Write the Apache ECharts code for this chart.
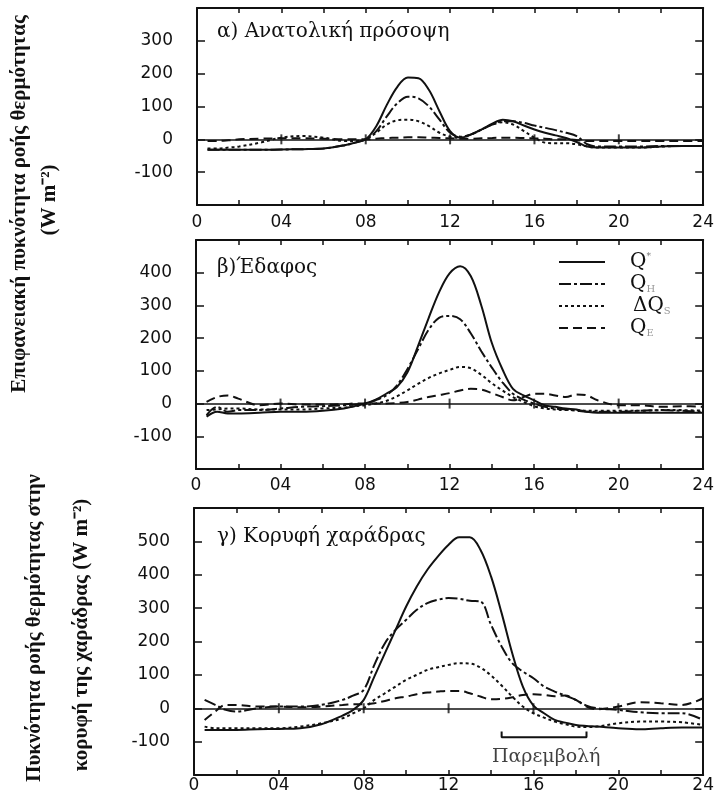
<!DOCTYPE html>
<html><head><meta charset="utf-8">
<script src="https://cdn.jsdelivr.net/npm/echarts@6/dist/echarts.min.js"></script>
<style>html,body{margin:0;padding:0;background:#fff}#c{width:717px;height:794px}</style>
</head><body><div id="c"></div>
<script>
// ---- data ----
const hours = [0.5,1,1.5,2,3,4,5,6,7,7.5,8,8.5,9,9.5,10,10.5,11,11.5,12,12.5,13,13.5,14,14.5,15,15.5,16,16.5,17,17.5,18,18.5,19,20,21,22,23,24];
const seriesNames = ['Q*','QH','ΔQS','QE'];
const panelTitles = ['α) Ανατολική πρόσοψη','β)Έδαφος','γ) Κορυφή χαράδρας'];
const xTickLabels = {0:'0',4:'04',8:'08',12:'12',16:'16',20:'20',24:'24'};
const yRanges = [[-200,400],[-200,500],[-200,600]];
const yLabelRanges = [[-100,300],[-100,400],[-100,500]];
// panel a: Ανατολική πρόσοψη
const aQstar = [-32,-32,-32,-32,-32,-31,-30,-28,-18,-10, 0,40,105,160,188,186,150,85,25,5, 15,30,48,60,55,42,30,20,12,4, -8,-22,-25,-25,-25,-22,-20,-20];
const aQH    = [-32,-32,-32,-32,-32,-31,-30,-28,-18,-10, 0,25,70,110,130,125,100,60,20,8, 15,30,45,55,55,50,42,35,28,20, 10,-15,-22,-22,-22,-20,-20,-20];
const aDQS   = [-28,-28,-25,-22,-10,5,10,5,-5,-5, 0,20,45,58,60,55,40,20,8,5, 15,30,45,52,45,25,5,-10,-12,-12, -15,-22,-25,-25,-25,-22,-20,-20];
const aQE    = [-5,-5,-3,0,2,3,3,2,0,0, 0,2,4,5,6,6,5,4,3,2, 2,3,4,5,5,4,3,2,0,0, -2,-5,-5,-5,-5,-5,-5,-5];
// panel b: Έδαφος
const bQstar = [-40,-25,-30,-30,-28,-25,-25,-22,-15,-8, 0,12,30,50,95,175,260,340,398,420, 390,300,185,105,45,25,10,-5,-10,-15, -18,-25,-28,-28,-28,-28,-28,-28];
const bQH    = [-35,-10,-25,-20,-20,-15,-10,-8,-5,-3, 0,10,25,55,105,165,225,262,268,258, 215,160,110,65,30,12,0,-10,-15,-18, -22,-25,-25,-25,-22,-20,-22,-25];
const bDQS   = [-20,-18,-15,-15,-18,-18,-18,-15,-12,-8, -5,0,8,22,40,60,78,92,103,112, 108,88,62,40,20,5,-8,-15,-18,-20, -20,-22,-22,-22,-22,-20,-20,-22];
const bQE    = [5,20,25,15,-5,0,-3,-3,-2,0, 0,0,0,2,5,12,20,26,32,40, 45,43,32,20,10,20,30,30,25,20, 28,25,10,-5,-5,-10,-8,-10];
// panel c: Κορυφή χαράδρας
const cQstar = [-65,-65,-65,-65,-63,-62,-60,-48,-22,-5, 25,95,165,235,305,365,415,455,490,512, 512,475,395,285,165,65,8,-15,-35,-43, -50,-53,-55,-60,-63,-60,-58,-58];
const cQH    = [25,10,-5,-10,0,5,5,10,25,38, 55,130,195,235,265,295,315,325,330,328, 322,320,250,185,135,110,90,65,50,38, 25,8,0,-5,-12,-15,-15,-35];
const cDQS   = [-55,-60,-60,-60,-60,-60,-55,-45,-30,-15, 0,25,45,65,85,100,115,123,130,135, 134,122,98,68,35,5,-15,-28,-40,-48, -55,-56,-55,-45,-40,-40,-42,-50];
const cQE    = [-35,-10,10,10,5,5,3,5,10,12, 12,15,22,30,35,42,47,50,52,52, 45,35,27,28,33,40,42,40,36,38, 25,5,-3,5,18,15,10,30];
const zeroMarks = [4,8,12,16,20];
const bracketHours = [14.5,18.5];
const bracketValues = [-70,-87];
const bracketLabel = {text:'Παρεμβολή', hour:16.6, value:-146};

// ---- layout ----
const grids = [
  {left:197, top:8,   width:517, height:197},
  {left:196, top:240, width:518, height:229},
  {left:194, top:508, width:520, height:268}
];
const xLabelMargins = [9, 8, 2];
const styles = {
  'Q*':  {type:'solid'},
  'QH':  {type:[12,3,3,3]},
  'ΔQS': {type:[3,3]},
  'QE':  {type:[9,5]}
};
const ink = '#111';
const panels = [[aQstar,aQH,aDQS,aQE],[bQstar,bQH,bDQS,bQE],[cQstar,cQH,cDQS,cQE]];

const xAxis = [], yAxis = [], series = [];
panels.forEach((vals, g) => {
  const common = {type:'value', gridIndex:g, min:0, max:24, interval:2,
    axisLine:{show:true, onZero:false, lineStyle:{color:ink, width:2}},
    axisTick:{show:true, inside:true, length:5, lineStyle:{color:ink, width:1.5}},
    splitLine:{show:false}};
  xAxis.push(Object.assign({}, common, {position:'bottom',
    axisLabel:{show:true, margin:xLabelMargins[g], color:ink, fontFamily:'DejaVu Sans', fontSize:17,
      showMinLabel:true, showMaxLabel:true,
      formatter: v => (xTickLabels[v] !== undefined ? xTickLabels[v] : '')}}));
  xAxis.push(Object.assign({}, common, {position:'top', axisLabel:{show:false}}));
  const [ymin, ymax] = yRanges[g];
  const [lmin, lmax] = yLabelRanges[g];
  const ycommon = {type:'value', gridIndex:g, min:ymin, max:ymax, interval:100,
    axisLine:{show:true, onZero:false, lineStyle:{color:ink, width:2}},
    axisTick:{show:true, inside:true, length:8, lineStyle:{color:ink, width:1.5}},
    splitLine:{show:false}};
  yAxis.push(Object.assign({}, ycommon, {position:'left',
    axisLabel:{show:true, margin:24, color:ink, fontFamily:'DejaVu Sans', fontSize:17,
      formatter: v => (v >= lmin && v <= lmax ? String(v) : '')}}));
  yAxis.push(Object.assign({}, ycommon, {position:'right', axisLabel:{show:false}}));
  vals.forEach((arr, k) => {
    const name = seriesNames[k];
    const s = {
      type:'line', name, xAxisIndex:2*g, yAxisIndex:2*g,
      data: hours.map((h,i) => [h, arr[i]]),
      smooth:0.35, symbol:'none', silent:true,
      lineStyle:{color:ink, width:2, type:styles[name].type},
      itemStyle:{color:ink}
    };
    if (k === 0) {
      s.markLine = {silent:true, symbol:'none', label:{show:false},
        lineStyle:{color:ink, width:1.5, type:'solid'}, data:[{yAxis:0}]};
    }
    series.push(s);
  });
  series.push({type:'scatter', xAxisIndex:2*g, yAxisIndex:2*g, silent:true,
    symbol:'rect', symbolSize:[2,10], itemStyle:{color:ink},
    data: zeroMarks.map(h => [h, 0])});
});
// bracket "Παρεμβολή" in panel c
series.push({type:'line', xAxisIndex:4, yAxisIndex:4, silent:true, symbol:'none',
  lineStyle:{color:ink, width:2},
  data:[[bracketHours[0],bracketValues[0]],[bracketHours[0],bracketValues[1]],
        [bracketHours[1],bracketValues[1]],[bracketHours[1],bracketValues[0]]]});
series.push({type:'scatter', xAxisIndex:4, yAxisIndex:4, silent:true, symbolSize:0,
  data:[[bracketLabel.hour, bracketLabel.value]],
  label:{show:true, position:'inside', formatter:bracketLabel.text,
    fontFamily:'DejaVu Serif', fontSize:19, color:ink}});

const legendRich = {
  q:{fontFamily:'DejaVu Serif', fontSize:20, color:ink, lineHeight:20, verticalAlign:'middle'},
  sub:{fontFamily:'DejaVu Serif', fontSize:10, color:'#999', lineHeight:20, verticalAlign:'bottom'},
  sup:{fontFamily:'DejaVu Serif', fontSize:9, color:'#777', lineHeight:20, verticalAlign:'top'}
};
const legendText = {
  'Q*':'{q|Q}{sup|*}', 'QH':'{q|Q}{sub|H}', 'ΔQS':'{q|ΔQ}{sub|S}', 'QE':'{q|Q}{sub|E}'
};

const titleFont = '20px "DejaVu Serif"';
const panelTitleTops = [22, 258, 527];
const graphic = panelTitles.map((t,i) => ({type:'text', left:217, top:panelTitleTops[i],
  style:{text:t, font:titleFont, fill:ink}}));
const sideTitles = [
  {text:'Επιφανειακή πυκνότητα ροής θερμότητας', x:20, y:204},
  {text:'(W m⁻²)', x:50, y:200},
  {text:'Πυκνότητα ροής θερμότητας στην', x:35, y:628},
  {text:'κορυφή της χαράδρας (W m⁻²)', x:82, y:635}
];
sideTitles.forEach(t => graphic.push({type:'text', x:t.x, y:t.y, rotation:Math.PI/2,
  style:{text:t.text, font:'bold 21px "Liberation Serif"', fill:ink, align:'center', verticalAlign:'middle'}}));

const chart = echarts.init(document.getElementById('c'), null, {renderer:'canvas'});
chart.setOption({
  animation:false,
  backgroundColor:'#fff',
  grid:grids,
  xAxis, yAxis, series, graphic,
  legend:{show:true, orient:'vertical', left:558, top:252, padding:0,
    itemWidth:46, itemHeight:14, itemGap:2, selectedMode:false,
    itemStyle:{color:'rgba(0,0,0,0)', borderColor:'rgba(0,0,0,0)', borderWidth:0},
    data:seriesNames.map(n => n === 'ΔQS' ? {name:n, textStyle:{padding:[0,0,0,23]}} : {name:n}),
    formatter: n => legendText[n],
    textStyle:{rich:legendRich, padding:[0,0,0,20]}}
});
</script></body></html>
